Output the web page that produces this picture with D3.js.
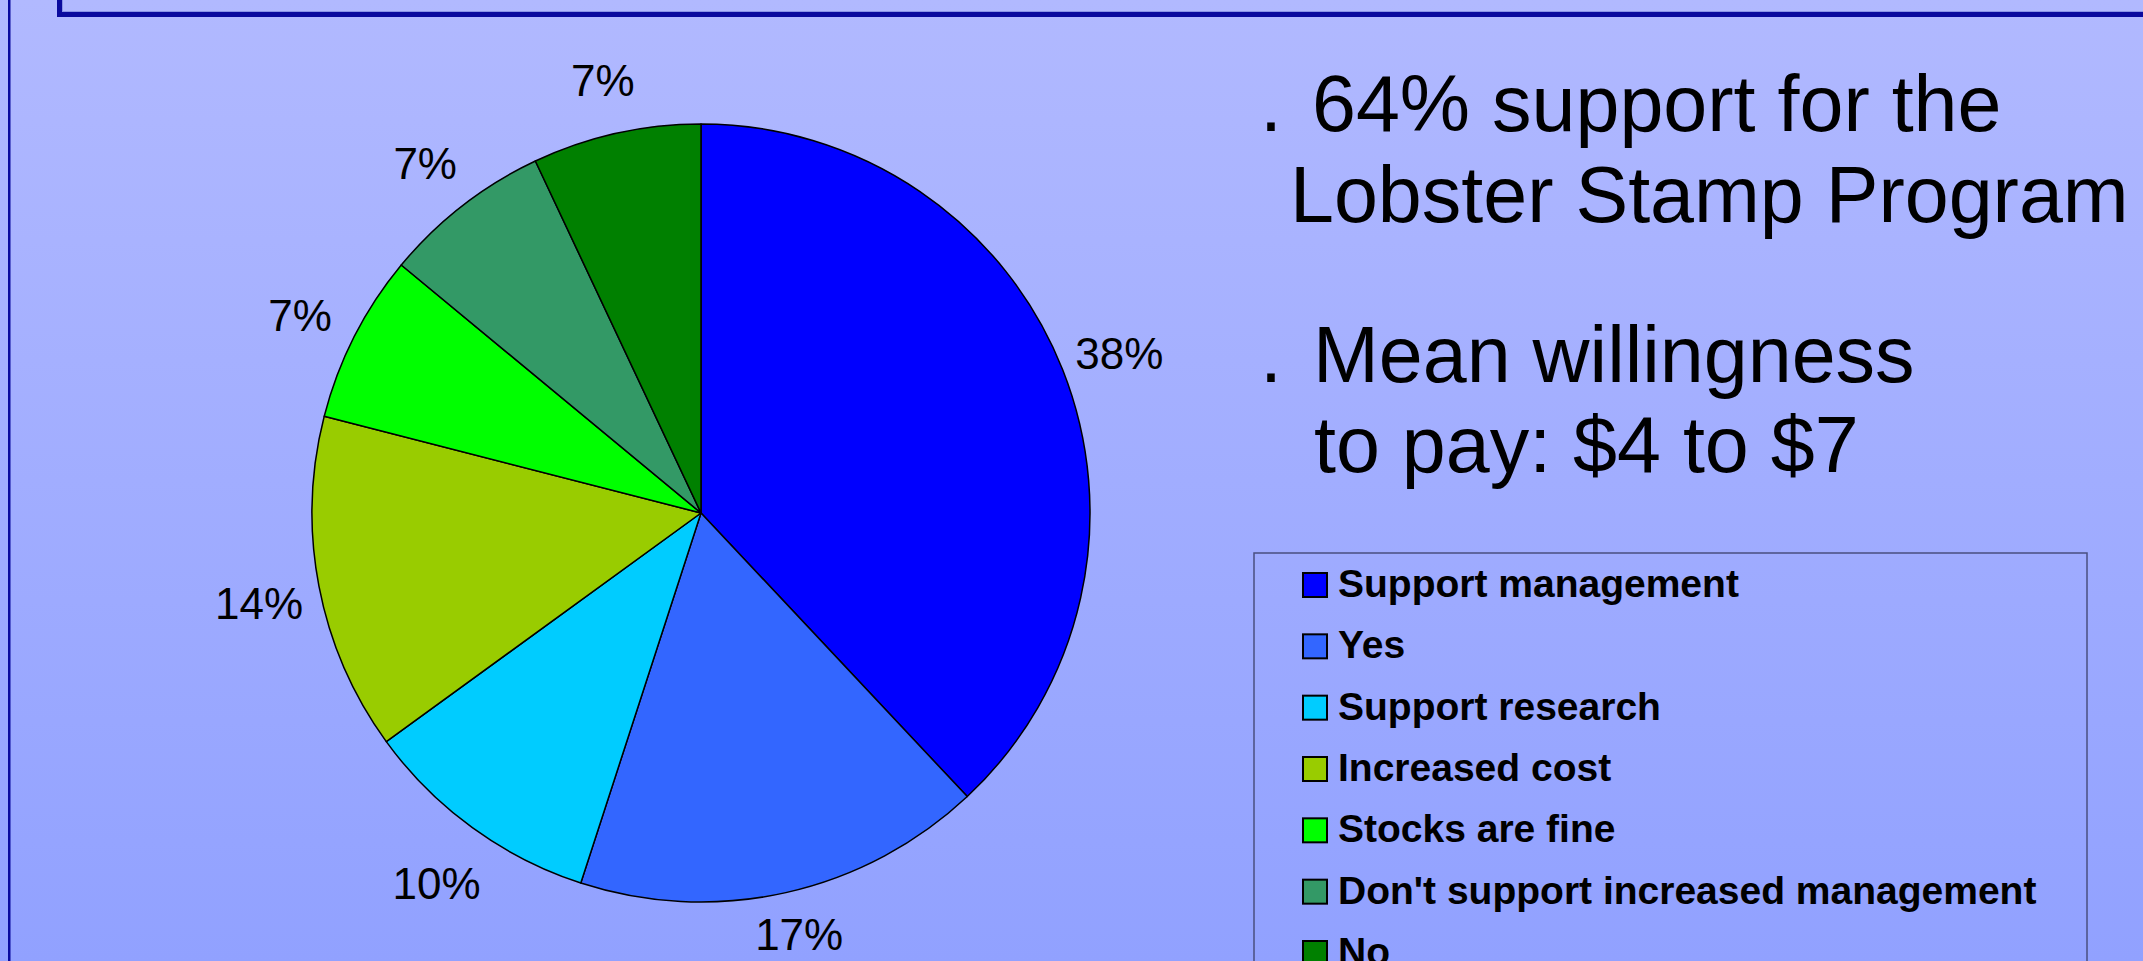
<!DOCTYPE html>
<html>
<head>
<meta charset="utf-8">
<script src="https://cdn.jsdelivr.net/npm/d3@7"></script>
<style>
  html, body { margin: 0; padding: 0; overflow: hidden; }
  svg { display: block; }
</style>
</head>
<body>
<svg id="chart" width="2143" height="961"></svg>
<script>
// Survey responses on the Lobster Stamp Program
const categories = [
  "Support management",
  "Yes",
  "Support research",
  "Increased cost",
  "Stocks are fine",
  "Don't support increased management",
  "No"
];
const shares = [38, 17, 10, 14, 7, 7, 7];
const sliceColors = ["#0000FF", "#3366FF", "#00CCFF", "#99CC00", "#00FF00", "#339966", "#008000"];
const bulletLines = [
  { bullet: true,  text: "64% support for the" },
  { bullet: false, text: "Lobster Stamp Program" },
  { bullet: true,  text: "Mean willingness" },
  { bullet: false, text: "to pay: $4 to $7" }
];

const W = 2143, H = 961;
const svg = d3.select("#chart");
const defs = svg.append("defs");

// slide background: vertical lavender gradient
const grad = defs.append("linearGradient")
  .attr("id", "bg").attr("x1", 0).attr("y1", 0).attr("x2", 0).attr("y2", 1);
grad.append("stop").attr("offset", "0%").attr("stop-color", "#B1B9FF");
grad.append("stop").attr("offset", "100%").attr("stop-color", "#91A1FF");
svg.append("rect").attr("width", W).attr("height", H).attr("fill", "url(#bg)");

// slide frame: left rule and the bottom edge of the title box
svg.append("rect").attr("x", 8).attr("y", 0).attr("width", 2.5).attr("height", H).attr("fill", "#0A0A9E");
svg.append("rect").attr("x", 57).attr("y", 0).attr("width", 5).attr("height", 17).attr("fill", "#0A0A9E");
svg.append("rect").attr("x", 57).attr("y", 12).attr("width", W - 57).attr("height", 5).attr("fill", "#0A0A9E");
svg.append("rect").attr("x", 62).attr("y", 11).attr("width", W - 62).attr("height", 1).attr("fill", "#8A94E6");
svg.append("rect").attr("x", 62).attr("y", 0).attr("width", 1).attr("height", 11).attr("fill", "#8A94E6");

// pie
const cx = 701, cy = 513, radius = 389, labelRadius = 450;
const data = categories.map((c, i) => ({ name: c, value: shares[i] }));
const color = d3.scaleOrdinal().domain(categories).range(sliceColors);
const pie = d3.pie().value(d => d.value).sort(null).startAngle(0).endAngle(2 * Math.PI);
const arcs = pie(data);
const arc = d3.arc().innerRadius(0).outerRadius(radius);
const labelArc = d3.arc().innerRadius(labelRadius).outerRadius(labelRadius);
const total = d3.sum(shares);
const pct = d3.format(".0%");

const g = svg.append("g").attr("transform", `translate(${cx},${cy})`);
g.selectAll("path.slice")
  .data(arcs)
  .join("path")
  .attr("class", "slice")
  .attr("d", arc)
  .attr("fill", d => color(d.data.name))
  .attr("stroke", "#000")
  .attr("stroke-width", 1.5)
  .attr("stroke-linejoin", "round");

// percentage labels outside the rim; kept clear of the bottom edge
const labelFs = 44;
const maxLabelY = H - cy - labelFs * 0.6;
g.selectAll("text.pct")
  .data(arcs)
  .join("text")
  .attr("class", "pct")
  .attr("transform", d => {
    const [x, y] = labelArc.centroid(d);
    return `translate(${x},${Math.min(y + 6, maxLabelY)})`;
  })
  .attr("text-anchor", "middle")
  .attr("dy", "0.36em")
  .attr("font-family", "'Liberation Sans', Arial, sans-serif")
  .attr("font-size", labelFs)
  .attr("fill", "#000")
  .text(d => pct(d.data.value / total));

// bullet text
const fs = 79;
const lineY = [131, 222, 382, 472];
const lineX = [1312, 1290, 1313, 1314];
const tg = svg.append("g")
  .attr("font-family", "'Liberation Sans', Arial, sans-serif")
  .attr("font-size", fs)
  .attr("fill", "#000");
bulletLines.forEach((ln, i) => {
  if (ln.bullet) {
    tg.append("text").attr("x", 1260).attr("y", lineY[i]).text(".");
  }
  tg.append("text").attr("x", lineX[i]).attr("y", lineY[i]).text(ln.text);
});

// legend (its box runs past the bottom of the slide)
const lx = 1254, ly = 553, lw = 833;
svg.append("rect")
  .attr("x", lx).attr("y", ly).attr("width", lw).attr("height", H - ly + 20)
  .attr("fill", "none").attr("stroke", "#4A4F80").attr("stroke-width", 1.5);
const rowY = d3.scalePoint().domain(categories).range([597, 965]);
const items = svg.append("g").selectAll("g.item")
  .data(categories)
  .join("g")
  .attr("class", "item")
  .attr("transform", d => `translate(0,${rowY(d)})`);
items.append("rect")
  .attr("x", 1303).attr("y", -24).attr("width", 24).attr("height", 24)
  .attr("fill", d => color(d)).attr("stroke", "#000").attr("stroke-width", 2);
items.append("text")
  .attr("x", 1338).attr("y", 0)
  .attr("font-family", "'Liberation Sans', Arial, sans-serif")
  .attr("font-weight", "bold")
  .attr("font-size", 39)
  .attr("fill", "#000")
  .text(d => d);
</script>
</body>
</html>
